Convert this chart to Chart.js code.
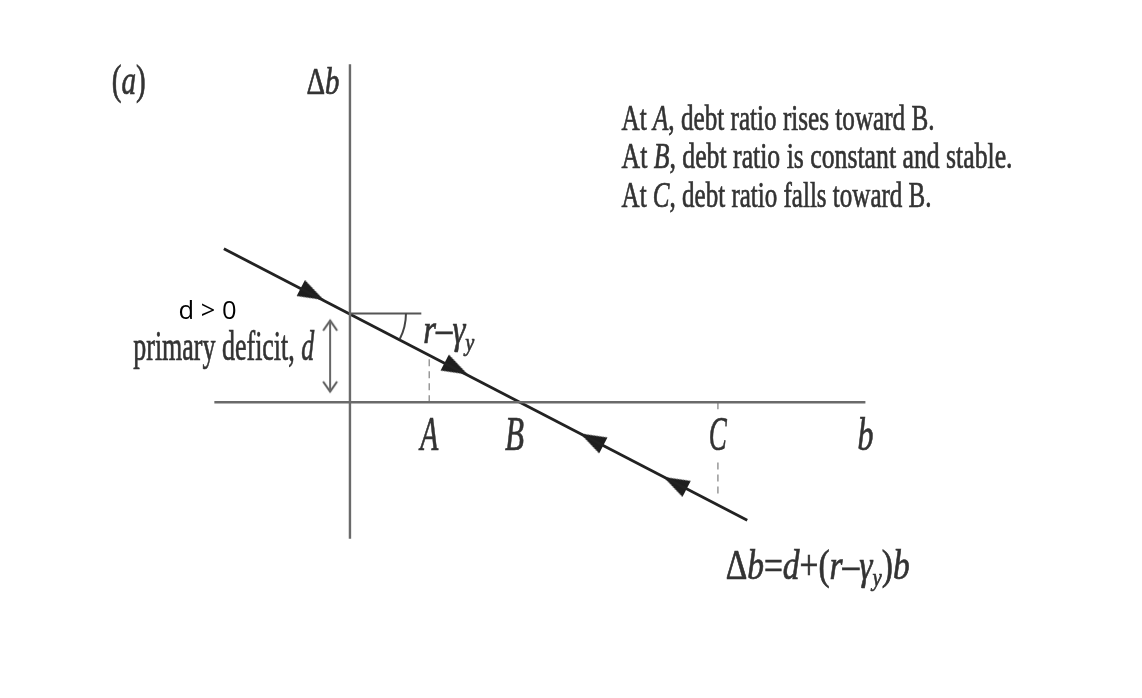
<!DOCTYPE html>
<html>
<head>
<meta charset="utf-8">
<script src="https://cdn.jsdelivr.net/npm/chart.js@4.4.1/dist/chart.umd.min.js"></script>
<style>
  html, body { margin: 0; padding: 0; background: #fff; }
  #wrap { position: relative; width: 1142px; height: 698px; }
</style>
</head>
<body>
<div id="wrap"><canvas id="c"></canvas></div>
<script>
/* ---------------------------------------------------------------- *
 * Diagram values, in diagram units (b across, Δb up)
 * ---------------------------------------------------------------- */
const bAxis = [-1.71, 6.5];          // extent of the b axis
const dbAxis = [-1.54, 3.81];        // extent of the Δb axis
const lineB = [-1.59, 5.01];         // Δb = d + (r − γy) b
const lineDb = [1.73, -1.33];
const refB = [0, 0.9];               // flat reference at height d
const refDb = [1.0, 1.0];
const guideAB = [1.0, 1.0];          // dashed drop line at A
const guideADb = [0, 0.5];
const guideCB = [4.64, 4.64, 4.64, 4.64, 4.64];  // dashed line at C, broken by the label
const guideCDb = [0, -0.1, null, -0.68, -1.08];
const arrowB = [-0.475, 1.34, 3.05, 4.1];
const arrowDb = [1.22, 0.38, -0.42, -0.91];
const arrowDir = [1, 1, -1, -1];     // 1 = moving right, -1 = moving left
const deficitB = [-0.25, -0.25];     // double arrow marking d
const deficitDb = [0.12, 0.92];

// view window (whole canvas is the plot area)
const VIEW = { xMin: -4.35, xMax: 9.925, yMin: -3.278, yMax: 4.478 };

const SERIF = '"Liberation Serif", "DejaVu Serif", serif';
const INK = "#333";

// *...* = italic, _x = subscript character
const LABELS = [
  { s: "(*a*)", b: -2.79, db: 3.478, size: 42, w: 34, align: "center" },
  { s: "Δ*b*", b: -0.34, db: 3.478, size: 38, w: 33, align: "center" },
  { s: "At *A*, debt ratio rises toward B.", b: 3.425, db: 3.07, size: 36, w: 313, align: "left" },
  { s: "At *B*, debt ratio is constant and stable.", b: 3.425, db: 2.64, size: 36, w: 391, align: "left" },
  { s: "At *C*, debt ratio falls toward B.", b: 3.425, db: 2.2, size: 36, w: 310, align: "left" },
  { s: "primary deficit, *d*", b: -0.45, db: 0.478, size: 42, w: 181, align: "right" },
  { s: "*r*–*γ_y*", b: 0.925, db: 0.667, size: 42, w: 51, align: "left" },
  { s: "*A*", b: 1.0, db: -0.544, size: 48, w: 18, align: "center" },
  { s: "*B*", b: 2.075, db: -0.544, size: 48, w: 19, align: "center" },
  { s: "*C*", b: 4.6375, db: -0.544, size: 48, w: 18, align: "center" },
  { s: "*b*", b: 6.5, db: -0.544, size: 46, w: 16, align: "center" },
  { s: "Δ*b*=*d*+(*r*–*γ_y*)*b*", b: 4.7375, db: -1.99, size: 42, w: 184, align: "left" },
  { s: "d > 0", b: -2.1625, db: 0.933, size: 26, w: 58, align: "left",
    family: '"Open Sans", "Liberation Sans", sans-serif', color: "#000", plain: true },
];

function pts(xs, ys) { return xs.map((x, i) => ({ x, y: ys[i] })); }

/* ---------------------------------------------------------------- *
 * Point-style sprites
 * ---------------------------------------------------------------- */
function makeArrowHead() {
  const c = document.createElement("canvas");
  c.width = 20; c.height = 26;
  const g = c.getContext("2d");
  g.fillStyle = "#1e1e1e";
  g.beginPath();
  g.moveTo(10, 0); g.lineTo(19, 26); g.lineTo(1, 26); g.closePath();
  g.fill();
  return c;
}
function makeChevron() {
  // tip sits at the sprite centre so the point is the arrow tip
  const c = document.createElement("canvas");
  c.width = 18; c.height = 24;
  const g = c.getContext("2d");
  g.strokeStyle = "#555"; g.lineWidth = 2;
  g.beginPath();
  g.moveTo(2, 22); g.lineTo(9, 12); g.lineTo(16, 22);
  g.stroke();
  return c;
}
const ARROW = makeArrowHead();
const CHEVRON = makeChevron();

function lineAngleDeg(chart) {
  const xs = chart.scales.x, ys = chart.scales.y;
  const dx = xs.getPixelForValue(lineB[1]) - xs.getPixelForValue(lineB[0]);
  const dy = ys.getPixelForValue(lineDb[1]) - ys.getPixelForValue(lineDb[0]);
  return Math.atan2(dy, dx) * 180 / Math.PI;
}

/* ---------------------------------------------------------------- *
 * Text + angle arc plugin
 * ---------------------------------------------------------------- */
function parseRuns(s) {
  const runs = [];
  let it = false, i = 0;
  while (i < s.length) {
    const ch = s[i];
    if (ch === "*") { it = !it; i++; continue; }
    if (ch === "_") { runs.push({ t: s[i + 1], it, sub: true }); i += 2; continue; }
    const last = runs[runs.length - 1];
    if (last && last.it === it && !last.sub) last.t += ch;
    else runs.push({ t: ch, it, sub: false });
    i++;
  }
  return runs;
}

const annotate = {
  id: "annotate",
  afterDatasetsDraw(chart) {
    const { ctx } = chart;
    const xs = chart.scales.x, ys = chart.scales.y;

    // angle arc at the Δb intercept
    const cx = xs.getPixelForValue(refB[0]);
    const cy = ys.getPixelForValue(refDb[0]);
    const a = lineAngleDeg(chart) * Math.PI / 180;
    ctx.save();
    ctx.strokeStyle = "#444";
    ctx.lineWidth = 2;
    ctx.beginPath();
    ctx.arc(cx, cy, 56, 0, a);
    ctx.stroke();
    ctx.restore();

    for (const L of LABELS) {
      const fam = L.family || SERIF;
      const runs = parseRuns(L.s);
      const fontOf = (r) => `${r.it ? "italic " : ""}${r.sub ? L.size * 0.62 : L.size}px ${fam}`;
      let raw = 0;
      for (const r of runs) { ctx.font = fontOf(r); r.wd = ctx.measureText(r.t).width; raw += r.wd; }
      const sx = L.w / raw;
      let x = xs.getPixelForValue(L.b);
      const y = ys.getPixelForValue(L.db);
      if (L.align === "center") x -= L.w / 2;
      else if (L.align === "right") x -= L.w;
      ctx.save();
      ctx.fillStyle = L.color || INK;
      ctx.strokeStyle = L.color || INK;
      ctx.lineWidth = 0.7;
      ctx.textBaseline = "alphabetic";
      for (const r of runs) {
        ctx.font = fontOf(r);
        ctx.save();
        ctx.translate(x, y + (r.sub ? L.size * 0.18 : 0));
        ctx.scale(sx, 1);
        ctx.fillText(r.t, 0, 0);
        if (!L.plain) ctx.strokeText(r.t, 0, 0);
        ctx.restore();
        x += r.wd * sx;
      }
      ctx.restore();
    }
  },
};

/* ---------------------------------------------------------------- *
 * Chart
 * ---------------------------------------------------------------- */
const segment = (data, color, width, dash) => ({
  data, showLine: true, spanGaps: false, borderColor: color, borderWidth: width,
  borderDash: dash || [], pointRadius: 0, fill: false, tension: 0,
});

new Chart(document.getElementById("c"), {
  type: "scatter",
  data: {
    datasets: [
      segment(pts(bAxis, [0, 0]), "#6a6a6a", 2.4),
      segment(pts([0, 0], dbAxis), "#6a6a6a", 2.4),
      segment(pts(guideAB, guideADb), "#999", 1.5, [7, 5]),
      segment(pts(guideCB, guideCDb), "#999", 1.5, [7, 5]),
      segment(pts(refB, refDb), "#555", 2.2),
      segment(pts(deficitB, deficitDb), "#666", 2),
      segment(pts(lineB, lineDb), "#222", 2.8),
      {
        data: pts(arrowB, arrowDb),
        showLine: false,
        pointStyle: ARROW,
        rotation: (c) => lineAngleDeg(c.chart) + 90 + (arrowDir[c.dataIndex] < 0 ? 180 : 0),
      },
      {
        data: pts(deficitB, deficitDb),
        showLine: false,
        pointStyle: CHEVRON,
        rotation: (c) => (c.dataIndex === 0 ? 180 : 0),
      },
    ],
  },
  options: {
    responsive: true,
    maintainAspectRatio: false,
    animation: false,
    events: [],
    layout: { padding: 0 },
    plugins: { legend: { display: false }, tooltip: { enabled: false } },
    scales: {
      x: { type: "linear", min: VIEW.xMin, max: VIEW.xMax, display: false },
      y: { type: "linear", min: VIEW.yMin, max: VIEW.yMax, display: false },
    },
  },
  plugins: [annotate],
});
</script>
</body>
</html>
